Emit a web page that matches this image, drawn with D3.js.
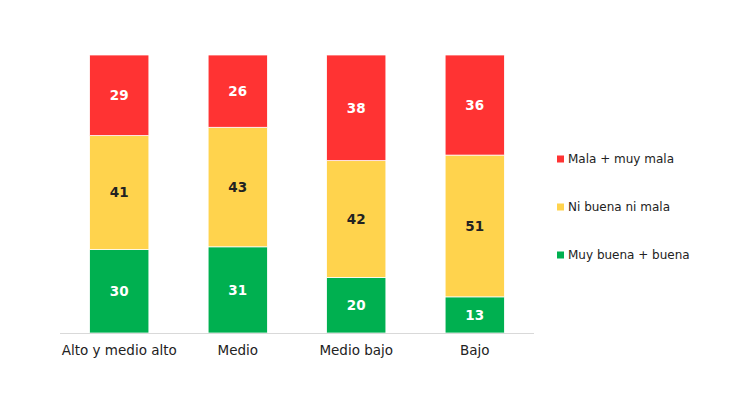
<!DOCTYPE html>
<html>
<head>
<meta charset="utf-8">
<script src="https://cdn.jsdelivr.net/npm/d3@7"></script>
<style>
  body { margin: 0; background: #fff; }
  svg text { font-family: "DejaVu Sans", Verdana, sans-serif; }
</style>
</head>
<body>
<div id="container"></div>
<script>
// data (percent)
const categories = ["Alto y medio alto", "Medio", "Medio bajo", "Bajo"]
const buena = [30, 31, 20, 13]
const niBuena = [41, 43, 42, 51]
const mala = [29, 26, 38, 36]
const seriesNames = ["Muy buena + buena", "Ni buena ni mala", "Mala + muy mala"]
const seriesColors = ["#00B050", "#FFD34D", "#FF3333"]
const labelColors = ["#fff", "#222", "#fff"]

const width = 756
const height = 397
const plotLeft = 60, plotRight = 534, plotTop = 55, plotBottom = 333

const rows = categories.map((c, i) => ({
    cat: c,
    s0: buena[i],
    s1: niBuena[i],
    s2: mala[i]
}))

const stack = d3.stack().keys(["s0", "s1", "s2"])(rows)

const xScale = d3.scaleBand()
    .domain(categories)
    .range([plotLeft, plotRight])
    .paddingInner(0.5)
    .paddingOuter(0.25)

const yScale = d3.scaleLinear()
    .domain([0, 100])
    .range([plotBottom, plotTop])

const svg = d3.select('#container').append('svg')
    .attr('width', width)
    .attr('height', height)

const groups = svg.selectAll('g.series')
    .data(stack)
    .enter()
    .append('g')
    .attr('class', 'series')
    .attr('fill', (d, i) => seriesColors[i])

groups.selectAll('rect')
    .data(d => d)
    .enter()
    .append('rect')
    .attr('x', d => xScale(d.data.cat))
    .attr('y', d => yScale(d[1]))
    .attr('width', xScale.bandwidth())
    .attr('height', d => yScale(d[0]) - yScale(d[1]))
    .attr('stroke', '#fff')
    .attr('stroke-width', 0.75)

groups.each(function (s, si) {
    d3.select(this).selectAll('text')
        .data(s)
        .enter()
        .append('text')
        .attr('x', d => xScale(d.data.cat) + xScale.bandwidth() / 2)
        .attr('y', d => (yScale(d[0]) + yScale(d[1])) / 2)
        .attr('dy', '0.35em')
        .attr('text-anchor', 'middle')
        .attr('font-size', 13.5)
        .attr('font-weight', 'bold')
        .attr('fill', labelColors[si])
        .text(d => d[1] - d[0])
})

// baseline + category labels
const xAxis = d3.axisBottom(xScale).tickSize(0).tickPadding(12)
const gx = svg.append('g')
    .attr('transform', `translate(0, ${plotBottom})`)
    .call(xAxis)
gx.select('.domain').attr('stroke', '#d9d9d9').attr('d', `M${plotLeft},0.5H${plotRight}`)
gx.selectAll('text')
    .attr('font-size', 13.5)
    .attr('fill', '#222')
    .style('font-family', '"DejaVu Sans", Verdana, sans-serif')

// legend, top entry is the top segment
const legendY = [159, 207, 255]
const legend = svg.selectAll('g.legend')
    .data(seriesNames.slice().reverse())
    .enter()
    .append('g')
    .attr('class', 'legend')
    .attr('transform', (d, i) => `translate(557, ${legendY[i]})`)

legend.append('rect')
    .attr('x', 0)
    .attr('y', -3.5)
    .attr('width', 7)
    .attr('height', 7)
    .attr('fill', (d, i) => seriesColors[2 - i])

legend.append('text')
    .attr('x', 11)
    .attr('dy', '0.35em')
    .attr('font-size', 12)
    .attr('fill', '#222')
    .text(d => d)
</script>
</body>
</html>
